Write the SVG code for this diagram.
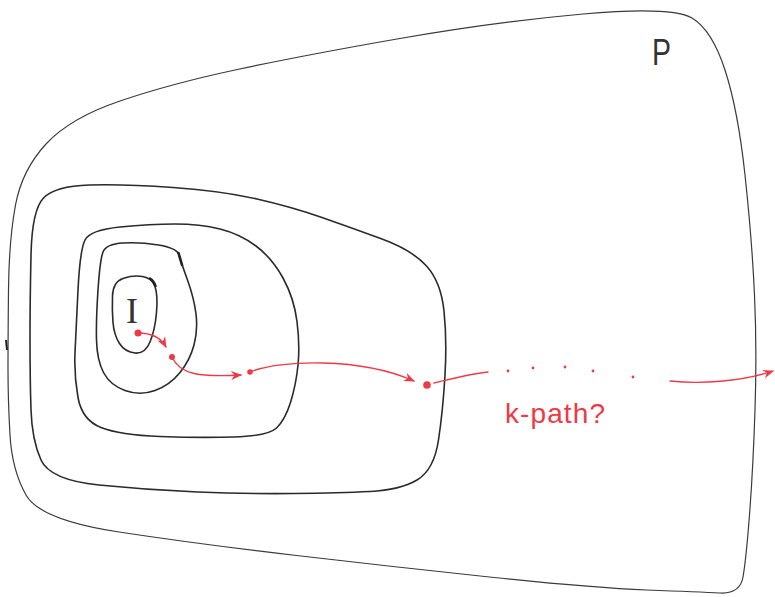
<svg xmlns="http://www.w3.org/2000/svg" width="775" height="597" viewBox="0 0 775 597">
<style>
.ring{fill:none;stroke:#2a2a2a;stroke-width:1.6;stroke-linejoin:round;stroke-linecap:round}
.outer{fill:none;stroke:#3a3a3a;stroke-width:1.2}
.red{fill:none;stroke:#ee3a45;stroke-width:1.3;stroke-linecap:round}
.dot{fill:#ee3a45}
.lbl{font-family:"Liberation Sans",Arial,sans-serif;fill:#333}
</style>
<defs>
<marker id="ah" markerUnits="userSpaceOnUse" markerWidth="11" markerHeight="10" viewBox="0 0 10 8" refX="9" refY="4" orient="auto">
<path d="M0,0 L10,4 L0,8 L3,4 Z" fill="#ee3a45"/>
</marker>
</defs>
<rect width="775" height="597" fill="#ffffff"/>
<g id="P">
<path class="outer" d="M 8.5,290 Q 9,240 15.5,205 Q 22,170 46,144 Q 70,118 120,101 Q 170,84 235,70 Q 300,56 397,39 Q 494,22 583,14 Q 672,6 692,18 Q 712,30 725,70 Q 738,110 745,175 Q 752,240 754.5,295 Q 757,350 755,410 Q 753,470 749.5,515 Q 746,560 743,577 Q 740,594 720,593 Q 700,592 646.5,590 Q 593,588 494,577.5 Q 395,567 296.5,555.5 Q 198,544 119,532 Q 40,520 26,495 Q 12,470 10,435 Q 8,400 8,370 Q 8,340 8.5,290 Z"/>
<path d="M6,340 L7,350" stroke="#222" stroke-width="2"/>
<text class="lbl" x="652" y="65" font-size="36" textLength="19" lengthAdjust="spacingAndGlyphs" fill="#444">P</text>
</g>
<g id="ring3">
<path class="ring" d="M 31,255 Q 32,210 43.5,198 Q 55,186 89.5,185 Q 124,184 173,187.5 Q 222,191 257,199 Q 292,207 322,217.5 Q 352,228 382,239 Q 412,250 426.5,266 Q 441,282 444,311 Q 447,340 445,375 Q 443,410 438.5,440 Q 434,470 417,480 Q 400,490 370,491.5 Q 340,493 293.5,493.5 Q 247,494 197.5,492 Q 148,490 99,485 Q 50,480 41,460 Q 32,440 31,410 Q 30,380 30,340 Q 30,300 31,255 Z"/>
</g>
<g id="ring2">
<path class="ring" d="M 78,290 Q 80,250 85,240 Q 90,230 120,227 Q 150,224 175,224 Q 200,224 220,229 Q 240,234 256,246 Q 272,258 283,278 Q 294,298 297,321.5 Q 300,345 298,365 Q 296,385 290.5,402.5 Q 285,420 276.5,428 Q 268,436 234,437 Q 200,438 160,436.5 Q 120,435 101,427.5 Q 82,420 78,397.5 Q 74,375 75,352.5 Q 76,330 78,290 Z"/>
</g>
<g id="ring1">
<path class="ring" d="M 98,290 Q 100,260 103,252 Q 106,244 123,243 Q 140,242 158.5,245 Q 177,248 179,255 Q 181,262 187.5,280 Q 194,298 196,314 Q 198,330 194,345 Q 190,360 180,372.5 Q 170,385 155,390.5 Q 140,396 125,390.5 Q 110,385 103.5,372.5 Q 97,360 96.5,340 Q 96,320 98,290 Z"/>
<path d="M178.5,253 Q 180,258 182,265" fill="none" stroke="#222" stroke-width="2.6" stroke-linecap="round"/>
</g>
<g id="I">
<path class="ring" d="M 112.5,296 Q 113,282 123,278.5 Q 133,275 142.5,276.5 Q 152,278 155,286.5 Q 158,295 156.5,312.5 Q 155,330 150,342 Q 145,354 135,353 Q 125,352 119.5,343.5 Q 114,335 113,322.5 Q 112,310 112.5,296 Z"/>
<path d="M150,278.5 Q 154,281 155.5,286" fill="none" stroke="#222" stroke-width="2.6" stroke-linecap="round"/>
<text x="132" y="323" font-family="Liberation Serif,serif" font-size="36" text-anchor="middle" fill="#333">I</text>
</g>
<g id="connectors">
<circle class="dot" cx="138" cy="333" r="3.5"/>
<path class="red" d="M 138,333 C 150,333 160,336 166,347" marker-end="url(#ah)"/>
<circle class="dot" cx="172" cy="357" r="3"/>
<path class="red" d="M 172,357 C 180,375 200,377 241,375" marker-end="url(#ah)"/>
<circle class="dot" cx="250" cy="372" r="2.8"/>
<path class="red" d="M 250,372 C 280,360 360,357 414,381" marker-end="url(#ah)"/>
<circle class="dot" cx="427" cy="385" r="3.8"/>
<path class="red" d="M 434,383 C 455,378 470,374 488,372"/>
<circle class="dot" cx="508" cy="371" r="1.4"/>
<circle class="dot" cx="533" cy="368" r="1.4"/>
<circle class="dot" cx="565" cy="367" r="1.4"/>
<circle class="dot" cx="593" cy="371" r="1.4"/>
<circle class="dot" cx="633" cy="377" r="1.4"/>
<path class="red" d="M 670,381 C 700,384 740,382 773,371" marker-end="url(#ah)"/>
<text x="505" y="423" font-family="Liberation Sans,Arial,sans-serif" font-size="28" fill="#ee3a45" textLength="100" lengthAdjust="spacing">k-path?</text>
</g>
</svg>
